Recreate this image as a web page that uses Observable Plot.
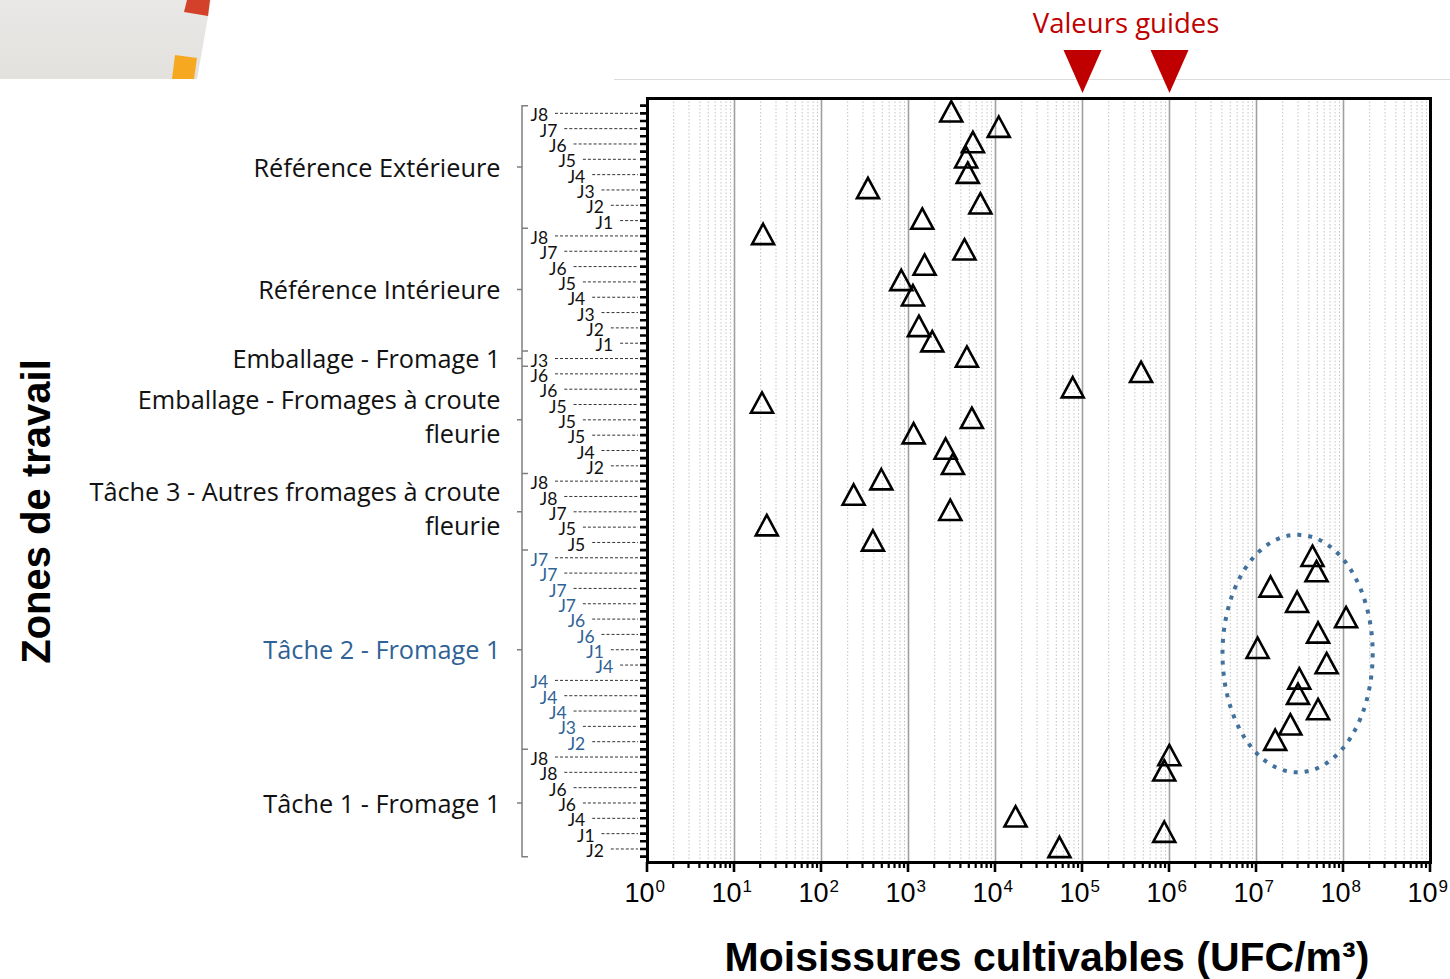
<!DOCTYPE html>
<html>
<head>
<meta charset="utf-8">
<script src="https://cdn.jsdelivr.net/npm/d3@7"></script>
<script src="https://cdn.jsdelivr.net/npm/@observablehq/plot@0.6"></script>
<style>
  html, body { margin: 0; padding: 0; background: #fff; }
  body { width: 1450px; height: 979px; position: relative; overflow: hidden; }
  #deco { position: absolute; left: 0; top: 0; width: 212px; height: 79px;
          background: linear-gradient(180deg, #e9e8e6, #e2e1de);
          clip-path: polygon(0 0, 211px 0, 197px 79px, 0 79px); z-index: 2; }
  #deco-red { position: absolute; left: 184px; top: 0; width: 26px; height: 16px; background: #d4412a;
          clip-path: polygon(3px 0, 26px 0, 24px 16px, 0 12px); z-index: 3; }
  #deco-orange { position: absolute; left: 172px; top: 55px; width: 25px; height: 24px; background: #f6a821;
          clip-path: polygon(3px 0, 25px 3px, 22px 24px, 0 24px); z-index: 3; }
  #topline { position: absolute; left: 614px; top: 79px; width: 836px; height: 1px; background: #dcdcdc; z-index: 0; }
  #chart { position: absolute; left: 0; top: 0; z-index: 1; }
</style>
</head>
<body>
<div id="topline"></div>
<div id="deco"></div>
<div id="deco-red"></div>
<div id="deco-orange"></div>
<div id="chart"></div>
<script>
// ---------------- data ----------------
const groupNames = [
  "Référence Extérieure",
  "Référence Intérieure",
  "Emballage - Fromage 1",
  "Emballage - Fromages à croute\nfleurie",
  "Tâche 3 - Autres fromages à croute\nfleurie",
  "Tâche 2 - Fromage 1",
  "Tâche 1 - Fromage 1"
];
const groupDays = [
  ["J8","J7","J6","J5","J4","J3","J2","J1"],
  ["J8","J7","J6","J5","J4","J3","J2","J1"],
  ["J3"],
  ["J6","J6","J5","J5","J5","J4","J2"],
  ["J8","J8","J7","J5","J5"],
  ["J7","J7","J7","J7","J6","J6","J1","J4","J4","J4","J4","J3","J2"],
  ["J8","J8","J6","J6","J4","J1","J2"]
];
// UFC/m3 (null = no point visible)
const groupValues = [
  [3100, 10900, 5500, 4600, 4800, 342, 6700, 1440],
  [21.3, 4400, 1530, 826, 1125, null, 1318, 1876],
  [4690],
  [471000, 77200, 20.7, 5350, 1145, 2670, 3240],
  [487, 234, 3020, 23.5, 390],
  [4.4e7, 4.9e7, 1.45e7, 2.93e7, 1.07e8, 5.1e7, 1.03e7, 6.4e7, 3.1e7, 3.0e7, 5.1e7, 2.45e7, 1.64e7],
  [9.95e5, 8.7e5, null, null, 1.7e4, 8.7e5, 5.43e4]
];
const highlightGroup = 5;               // Tâche 2 - Fromage 1 (blue, circled)
const guideValues = [1e5, 1e6];
const guideLabel = "Valeurs guides";
const xExponents = ["0","1","2","3","4","5","6","7","8","9"];
const xTitle = "Moisissures cultivables (UFC/m³)";
const yTitle = "Zones de travail";

// ---------------- derived tables ----------------
const rows = [];
const groups = [];
{
  let r = 0;
  groupDays.forEach((days, g) => {
    const first = r;
    days.forEach((day, i) => {
      rows.push({row: r, group: g, day, k: i % 8, value: groupValues[g][i]});
      r++;
    });
    groups.push({group: g, name: groupNames[g], first, last: r - 1, center: (first + r - 1) / 2});
  });
}
const nRows = rows.length;
const points = rows.filter(d => d.value != null);
const decades = xExponents.map(e => Math.pow(10, +e));
const minors = [];
for (let e = 0; e < 9; e++) for (let m = 2; m <= 9; m++) minors.push(m * Math.pow(10, e));
const halfRows = d3.range(-0.5, nRows, 0.5);

const BLUE = "#2f6296";
const SANS = "'Open Sans', Lato, sans-serif";
const JFONT = "Lato, 'Open Sans', sans-serif";
const ARIAL = "'Liberation Sans', Arial, sans-serif";
const NARROW = "'Liberation Sans Narrow', 'Liberation Sans', Arial, sans-serif";

// custom symbols
const triUp = { draw(ctx, size) { const s = Math.sqrt(size / Math.PI);
  ctx.moveTo(0, -1.15 * s); ctx.lineTo(1.0 * s, 0.7 * s); ctx.lineTo(-1.0 * s, 0.7 * s); ctx.closePath(); } };
const triDown = { draw(ctx, size) { const s = Math.sqrt(size / Math.PI);
  ctx.moveTo(-s, -1.13 * s); ctx.lineTo(s, -1.13 * s); ctx.lineTo(0, 1.13 * s); ctx.closePath(); } };

const ML = 647, MR = 20, MT = 98, MB = 117, W = 1450, H = 979;

// decorations drawn through the scales: y ticks, leaders, brackets, x ticks, highlight ellipse
function decorations(index, scales) {
  const x = scales.x, y = scales.y;
  const g = d3.create("svg:g");
  g.append("path")
    .attr("d", halfRows.map(r => `M${ML - 7},${y(r)}H${ML}`).join(""))
    .attr("stroke", "#000").attr("stroke-width", 2.6);
  g.append("path")
    .attr("d", rows.map(d => `M${530 + 9.3 * d.k + 25},${y(d.row)}H${ML - 9}`).join(""))
    .attr("stroke", "#333").attr("stroke-width", 1).attr("stroke-dasharray", "3,2").attr("fill", "none");
  g.append("path")
    .attr("d", groups.map(gr => {
      const y0 = y(gr.first - 0.5), y1 = y(gr.last + 0.5), ym = y(gr.center);
      return `M528,${y0}H522V${y1}H528M522,${ym}H517`;
    }).join(""))
    .attr("stroke", "#7f7f7f").attr("stroke-width", 1.5).attr("fill", "none");
  const yb = H - MB;
  g.append("path")
    .attr("d", decades.map(v => `M${x(v)},${yb}V${yb + 10}`).join(""))
    .attr("stroke", "#000").attr("stroke-width", 2.6);
  g.append("path")
    .attr("d", minors.map(v => `M${x(v)},${yb}V${yb + 6}`).join(""))
    .attr("stroke", "#000").attr("stroke-width", 2.2);
  const hg = groups[highlightGroup];
  const hv = points.filter(d => d.group === highlightGroup).map(d => d.value);
  const x0 = x(d3.min(hv) / 2.5), x1 = x(d3.max(hv) * 2.05);
  const ya = y(hg.first - 1.5), yz = y(hg.last + 2.0);
  g.append("ellipse")
    .attr("cx", (x0 + x1) / 2).attr("cy", (ya + yz) / 2)
    .attr("rx", (x1 - x0) / 2).attr("ry", (yz - ya) / 2)
    .attr("fill", "none").attr("stroke", "#41719c").attr("stroke-width", 4)
    .attr("stroke-dasharray", "4,7");
  return g.node();
}

const labelMarks = d3.range(8).map(k =>
  Plot.text(rows.filter(d => d.k === k), {
    y: "row", text: "day", frameAnchor: "left", textAnchor: "start",
    dx: 530 + 9.3 * k - ML, dy: 2, fontSize: 17.5, fontFamily: JFONT,
    fill: d => d.group === highlightGroup ? BLUE : "#111"
  })
);

const groupFill = d => d.group === highlightGroup ? BLUE : "#111";
const singleGroups = groups.filter(d => !d.name.includes("\n"));
const multiGroups = groups.filter(d => d.name.includes("\n"));

const chart = Plot.plot({
  width: W, height: H,
  marginLeft: ML, marginRight: MR, marginTop: MT, marginBottom: MB,
  style: { background: "transparent", overflow: "visible" },
  x: { type: "log", domain: [1, 1e9], axis: null },
  y: { domain: [nRows - 0.15, -1], axis: null },
  marks: [
    Plot.ruleX(minors, { stroke: "#c4c4c4", strokeWidth: 1, strokeDasharray: "1.5,2" }),
    Plot.ruleX(decades, { stroke: "#a0a0a0", strokeWidth: 1.6 }),
    Plot.frame({ stroke: "#000", strokeWidth: 3 }),
    decorations,
    ...labelMarks,
    Plot.text(singleGroups, {
      y: "center", text: "name", frameAnchor: "left", textAnchor: "end",
      dx: 500 - ML, dy: 1, fontSize: 25.3, fontFamily: SANS, fill: groupFill
    }),
    Plot.text(multiGroups, {
      y: "center", text: "name", frameAnchor: "left", textAnchor: "end",
      dx: 500 - ML, dy: -5, fontSize: 25.3, lineHeight: 1.35, fontFamily: SANS, fill: groupFill
    }),
    Plot.dot(points, {
      x: "value", y: "row", symbol: triUp, r: 11,
      stroke: "#000", strokeWidth: 2.6, fill: "none", strokeLinejoin: "miter"
    }),
    Plot.dot(guideValues, {
      x: d => d, frameAnchor: "top", dy: -27, symbol: triDown, r: 19,
      fill: "#c00000", stroke: "none"
    }),
    Plot.text([guideLabel], {
      x: () => Math.sqrt(guideValues[0] * guideValues[1]), frameAnchor: "top", dy: -85,
      textAnchor: "middle", fontSize: 27.5, fontFamily: SANS, fill: "#c00000"
    }),
    Plot.text(decades, {
      x: d => d, text: () => "10", frameAnchor: "bottom", textAnchor: "end",
      dx: 7, dy: 39, fontSize: 27, fontFamily: NARROW, fill: "#000"
    }),
    Plot.text(decades, {
      x: d => d, text: (d, i) => xExponents[i], frameAnchor: "bottom", textAnchor: "start",
      dx: 8, dy: 29, fontSize: 17, fontFamily: NARROW, fill: "#000"
    }),
    Plot.text([xTitle], {
      frameAnchor: "bottom", textAnchor: "middle", dx: 8, dy: 108, fontSize: 41, fontWeight: "bold",
      fontFamily: NARROW, fill: "#000"
    }),
    Plot.text([yTitle], {
      frameAnchor: "left", textAnchor: "middle", dx: 37 - ML, dy: 31, rotate: -90, fontSize: 40, fontWeight: "bold",
      fontFamily: ARIAL, fill: "#000"
    })
  ]
});
document.getElementById("chart").appendChild(chart);
</script>
</body>
</html>
